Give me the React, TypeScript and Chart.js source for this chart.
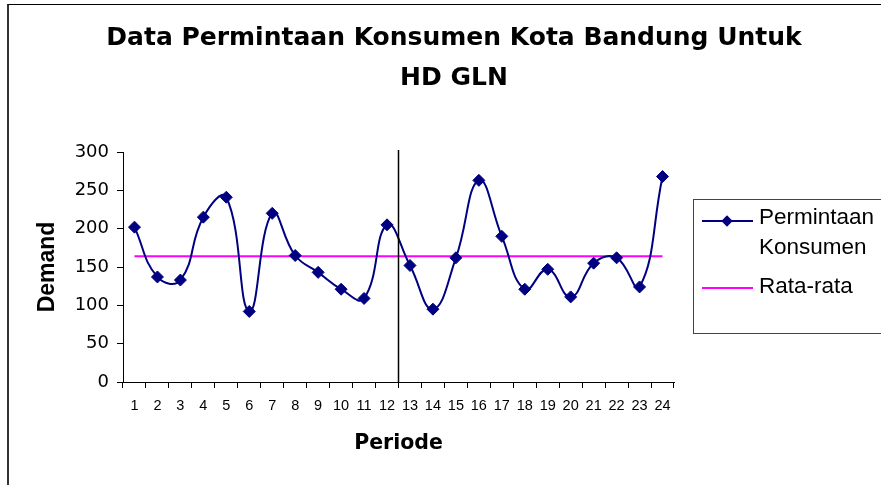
import React, { useEffect, useRef } from 'react';
import { Chart, registerables } from 'chart.js';

Chart.register(...registerables);

const categories = ['1', '2', '3', '4', '5', '6', '7', '8', '9', '10', '11', '12', '13', '14', '15', '16', '17', '18', '19', '20', '21', '22', '23', '24'];
const permintaan = [202, 137, 133, 215, 241, 92, 220, 165, 143, 121, 109, 205, 152, 95, 162, 263, 190, 121, 147, 111, 155, 162, 124, 268];
const rataRata = [164, 164, 164, 164, 164, 164, 164, 164, 164, 164, 164, 164, 164, 164, 164, 164, 164, 164, 164, 164, 164, 164, 164, 164];
const seriesNames = ['Permintaan Konsumen', 'Rata-rata'];
const titleLines = ['Data Permintaan Konsumen Kota Bandung Untuk', 'HD GLN'];
const xTitle = 'Periode';
const yTitle = 'Demand';
const yMin = 0;
const yMax = 300;
const yStep = 50;
const splitAfterIndex = 11;

const NAVY = '#000080';
const MAGENTA = '#FF00FF';

const splitLinePlugin = {
  id: 'splitLine',
  afterDatasetsDraw(chart: any) {
    const xs = chart.scales.x;
    const px = (xs.getPixelForValue(splitAfterIndex) + xs.getPixelForValue(splitAfterIndex + 1)) / 2;
    const { top, bottom } = chart.chartArea;
    const ctx = chart.ctx;
    ctx.save();
    ctx.strokeStyle = '#000';
    ctx.lineWidth = 1.5;
    ctx.beginPath();
    ctx.moveTo(px, top - 2);
    ctx.lineTo(px, bottom);
    ctx.stroke();
    ctx.restore();
  },
};

export default function App() {
  const ref = useRef<HTMLCanvasElement | null>(null);

  useEffect(() => {
    if (!ref.current) return;
    const chart = new Chart(ref.current, {
      type: 'line',
      data: {
        labels: categories,
        datasets: [
          {
            label: seriesNames[0],
            data: permintaan,
            borderColor: NAVY,
            backgroundColor: NAVY,
            borderWidth: 2,
            tension: 0.45,
            pointStyle: 'rectRot',
            pointRadius: 6,
            pointBorderWidth: 1,
            pointBackgroundColor: NAVY,
            pointBorderColor: NAVY,
            fill: false,
          },
          {
            label: seriesNames[1],
            data: rataRata,
            borderColor: MAGENTA,
            backgroundColor: MAGENTA,
            borderWidth: 2,
            pointRadius: 0,
            tension: 0,
            fill: false,
          },
        ],
      },
      options: {
        responsive: false,
        animation: false,
        layout: { padding: { left: 33, right: 6, top: 0, bottom: 0 } },
        plugins: {
          legend: { display: false },
          tooltip: { enabled: false },
          title: {
            display: true,
            text: titleLines,
            color: '#000',
            font: { family: '"DejaVu Sans", sans-serif', size: 25, weight: 'bold', lineHeight: '40.6px' },
            padding: { top: 17.7, bottom: 53.1 },
          },
        },
        scales: {
          x: {
            type: 'category',
            offset: true,
            grid: { display: true, offset: true, drawOnChartArea: false, drawTicks: true, tickLength: 6, color: '#000', lineWidth: 1 },
            border: { display: true, color: '#000', width: 1 },
            ticks: {
              color: '#000',
              font: { family: '"Liberation Sans Narrow", "Liberation Sans", Arial, sans-serif', size: 14.5 },
              padding: 9,
              maxRotation: 0,
              autoSkip: false,
            },
            title: {
              display: true,
              text: xTitle,
              color: '#000',
              font: { family: '"DejaVu Sans", sans-serif', size: 20.5, weight: 'bold' },
              padding: { top: 0, bottom: 29 },
            },
            afterFit: (s: any) => { s.height = 103; },
          },
          y: {
            type: 'linear',
            min: yMin,
            max: yMax,
            ticks: {
              stepSize: yStep,
              color: '#000',
              font: { family: '"DejaVu Sans", sans-serif', size: 18 },
              padding: 8,
            },
            grid: { display: true, drawOnChartArea: false, drawTicks: true, tickLength: 6, color: '#000', lineWidth: 1 },
            border: { display: true, color: '#000', width: 1 },
            title: {
              display: true,
              text: yTitle,
              color: '#000',
              font: { family: '"Liberation Sans", Arial, sans-serif', size: 23, weight: 'bold' },
              padding: { top: 1, bottom: 0 },
            },
            afterFit: (s: any) => { s.width = 90; },
          },
          yRight: {
            type: 'linear',
            position: 'right',
            display: true,
            grid: { display: false },
            ticks: { display: false },
            border: { display: false },
            afterFit: (s: any) => { s.width = 201; },
          },
        },
      },
      plugins: [splitLinePlugin],
    } as any);
    return () => chart.destroy();
  }, []);

  const legendFont = '"Liberation Sans", Arial, sans-serif';

  return (
    <div style={{ position: 'fixed', left: 0, top: 0, width: 881, height: 485, overflow: 'hidden', background: '#fff' }}>
      <canvas ref={ref} width={881} height={485} style={{ position: 'absolute', left: 0, top: 0, display: 'block' }} />
      <div style={{ position: 'absolute', left: 7, top: 4, width: 950, height: 600, borderLeft: '2px solid #333', borderTop: '1px solid #000', boxSizing: 'border-box', pointerEvents: 'none' }} />
      <div style={{ position: 'absolute', left: 693, top: 199, width: 220, height: 135, border: '1px solid #444', boxSizing: 'border-box' }} />
      <div style={{ position: 'absolute', left: 702, top: 220, width: 51, height: 2, background: NAVY }} />
      <div style={{ position: 'absolute', left: 723, top: 217, width: 8, height: 8, background: NAVY, transform: 'rotate(45deg)' }} />
      <div style={{ position: 'absolute', left: 759, top: 202, fontFamily: legendFont, fontSize: 22.5, lineHeight: '30px', color: '#000', whiteSpace: 'nowrap' }}>
        Permintaan<br />Konsumen
      </div>
      <div style={{ position: 'absolute', left: 702, top: 287, width: 51, height: 2, background: MAGENTA }} />
      <div style={{ position: 'absolute', left: 759, top: 270.5, fontFamily: legendFont, fontSize: 22.5, lineHeight: '30px', color: '#000', whiteSpace: 'nowrap' }}>
        {seriesNames[1]}
      </div>
    </div>
  );
}
